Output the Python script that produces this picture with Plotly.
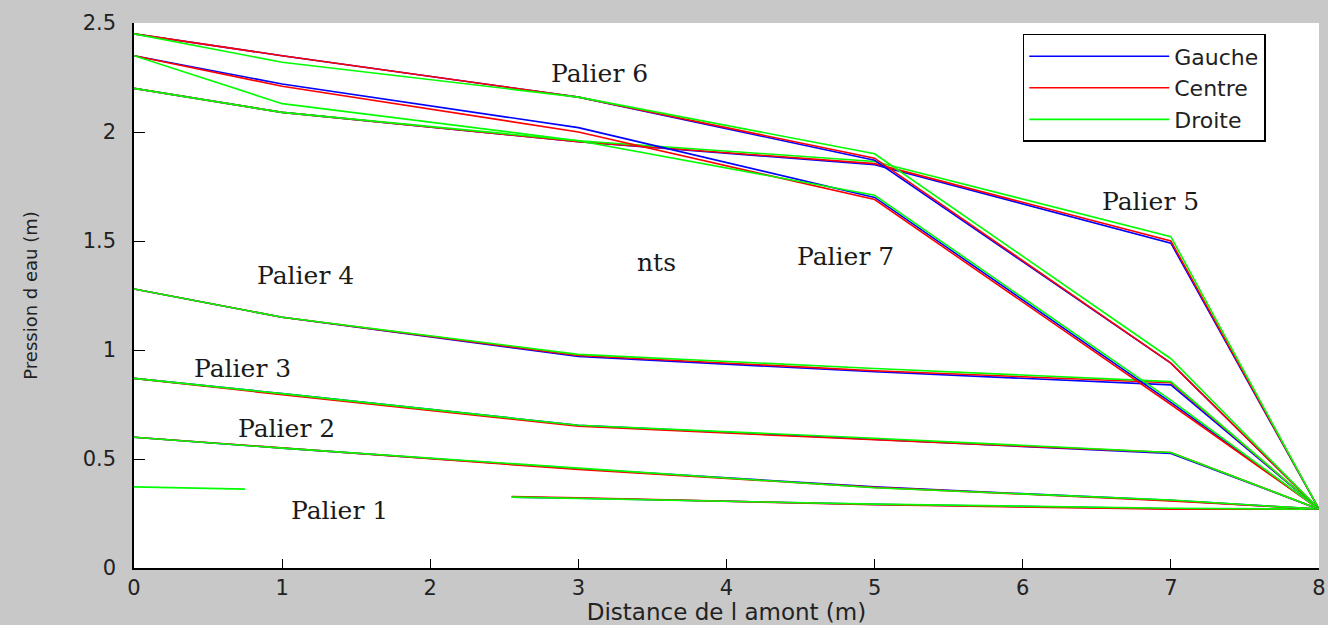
import plotly.graph_objects as go

# ---------------- data ----------------
X = [0, 1, 3, 5, 7, 8]

# Palier 7 (starts 2.35)
G7 = [2.35, 2.22, 2.02, 1.70, 0.76, 0.27]
C7 = [2.35, 2.21, 2.00, 1.69, 0.75, 0.27]
D7 = [2.35, 2.13, 1.96, 1.71, 0.77, 0.27]
# Palier 6 (starts 2.45)
G6 = [2.45, 2.35, 2.16, 1.87, 0.94, 0.27]
C6 = [2.45, 2.35, 2.16, 1.88, 0.94, 0.27]
D6 = [2.45, 2.32, 2.16, 1.90, 0.96, 0.27]
# Palier 5 (starts 2.20)
G5 = [2.20, 2.09, 1.955, 1.85, 1.49, 0.27]
C5 = [2.20, 2.09, 1.955, 1.855, 1.50, 0.27]
D5 = [2.20, 2.09, 1.96, 1.865, 1.52, 0.27]
# Palier 4
G4 = [1.28, 1.15, 0.97, 0.90, 0.84, 0.27]
C4 = [1.28, 1.15, 0.975, 0.905, 0.85, 0.27]
D4 = [1.28, 1.15, 0.98, 0.915, 0.855, 0.27]
# Palier 3
G3 = [0.87, 0.80, 0.655, 0.59, 0.525, 0.27]
C3 = [0.87, 0.795, 0.65, 0.588, 0.53, 0.27]
D3 = [0.87, 0.80, 0.655, 0.595, 0.53, 0.27]
# Palier 2
G2 = [0.60, 0.55, 0.455, 0.372, 0.31, 0.27]
C2 = [0.60, 0.55, 0.452, 0.37, 0.308, 0.27]
D2 = [0.60, 0.55, 0.458, 0.368, 0.312, 0.27]
# Palier 1 (partially missing)
X1 = [0, 0.75, 1.6, 2.55, 3, 5, 7, 8]
G1 = [None, None, None, 0.325, 0.32, 0.292, 0.272, 0.27]
C1 = [None, None, None, 0.328, 0.322, 0.29, 0.27, 0.27]
D1 = [0.372, 0.362, None, 0.325, 0.319, 0.293, 0.274, 0.27]

series = [
    (X1, G1, C1, D1),
    (X, G2, C2, D2),
    (X, G3, C3, D3),
    (X, G4, C4, D4),
    (X, G5, C5, D5),
    (X, G6, C6, D6),
    (X, G7, C7, D7),
]
names = ["Gauche", "Centre", "Droite"]
colors = ["rgb(0,0,255)", "rgb(255,0,0)", "rgb(0,255,0)"]

label_text = ["Palier 1", "Palier 2", "Palier 3", "Palier 4", "Palier 5", "Palier 6", "Palier 7", "nts"]
label_x = [1.39, 1.03, 0.73, 1.16, 6.86, 3.14, 4.80, 3.53]
label_y = [0.266, 0.64, 0.913, 1.34, 1.68, 2.27, 1.43, 1.40]

x_ticks = [0, 1, 2, 3, 4, 5, 6, 7, 8]
y_ticks = [0, 0.5, 1, 1.5, 2, 2.5]
y_ticktext = ["0", "0.5", "1", "1.5", "2", "2.5"]

# ---------------- figure ----------------
fig = go.Figure()
for i, (xs, g, c, d) in enumerate(series):
    for k, ys in enumerate((g, c, d)):
        fig.add_trace(go.Scatter(
            x=xs, y=ys, mode="lines", name=names[k],
            legendgroup=names[k], showlegend=(i == 0),
            line=dict(color=colors[k], width=1.6),
            connectgaps=False, hoverinfo="skip",
        ))

for t, lx, ly in zip(label_text, label_x, label_y):
    fig.add_annotation(x=lx, y=ly, text=t, showarrow=False,
                       font=dict(family="DejaVu Serif", size=25, color="#1a1a1a"),
                       xanchor="center", yanchor="middle")

axis_font = dict(family="DejaVu Sans", size=21, color="#222222")
fig.update_layout(
    width=1328, height=625,
    margin=dict(l=134, r=9, t=23, b=57, autoexpand=False),
    paper_bgcolor="rgb(200,200,200)",
    plot_bgcolor="white",
    showlegend=True,
    legend=dict(
        x=0.75, y=0.98, xanchor="left", yanchor="top",
        bgcolor="white", bordercolor="black", borderwidth=1.5,
        font=dict(family="DejaVu Sans", size=22, color="#222222"),
        itemwidth=140, tracegroupgap=0,
    ),
    xaxis=dict(
        range=[0, 8], tickvals=x_ticks, ticks="inside", ticklen=9,
        tickcolor="black", showline=True, linecolor="black", linewidth=1.5,
        showgrid=False, zeroline=False, tickfont=axis_font,
        ticklabeloverflow="allow", automargin=False,
        title=dict(text="Distance de l amont (m)", standoff=2,
                   font=dict(family="DejaVu Sans", size=23, color="#222222")),
    ),
    yaxis=dict(
        range=[0, 2.5], tickvals=y_ticks, ticktext=y_ticktext, ticks="inside",
        ticklen=11, tickcolor="black", showline=True, linecolor="black",
        linewidth=1.5, showgrid=False, zeroline=False, tickfont=axis_font,
        ticklabelstandoff=12, automargin=False,
        title=dict(text="Pression d eau (m)", standoff=40,
                   font=dict(family="DejaVu Sans", size=18, color="#222222")),
    ),
)

fig.write_html("out.html")
